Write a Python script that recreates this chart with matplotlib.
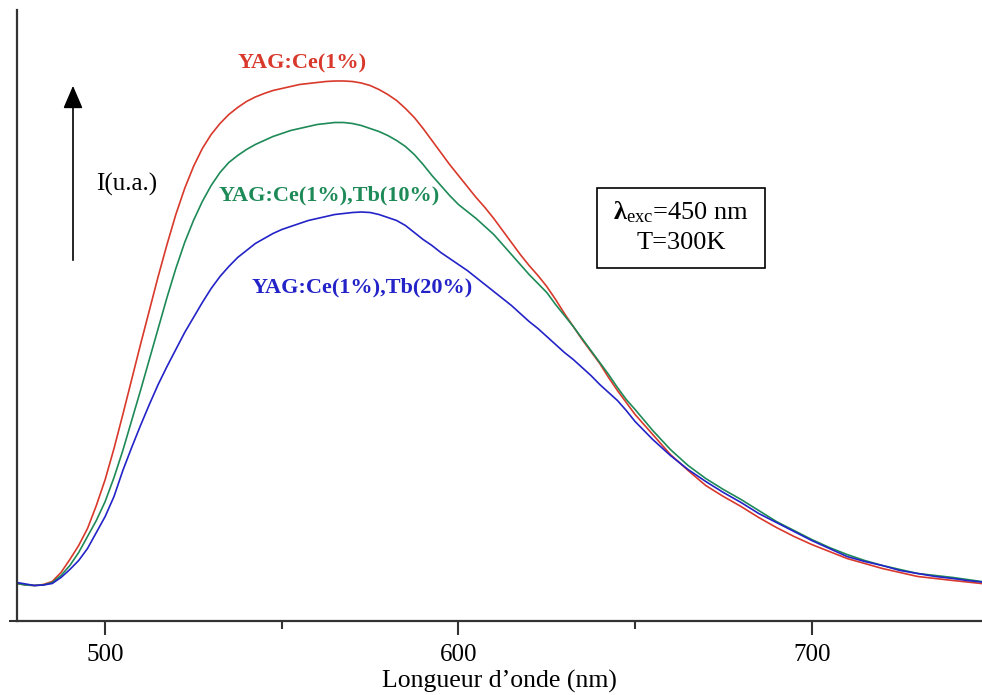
import matplotlib
matplotlib.use("Agg")
import matplotlib.pyplot as plt
from matplotlib.patches import Rectangle, FancyArrowPatch

plt.rcParams['font.family'] = ['Liberation Serif', 'DejaVu Serif']
plt.rcParams['mathtext.fontset'] = 'custom'
plt.rcParams['mathtext.rm'] = 'Liberation Serif'
plt.rcParams['mathtext.it'] = 'Liberation Serif'
plt.rcParams['mathtext.bf'] = 'Liberation Serif:bold'

# ---- data (wavelength in nm, intensity in arbitrary units) ----
wavelength = [475, 477.5, 480, 482.5, 485, 487.5, 490, 492.5, 495, 497.5,
              500, 502.5, 505, 507.5, 510, 512.5, 515, 517.5, 520, 522.5,
              525, 527.5, 530, 532.5, 535, 537.5, 540, 542.5, 545, 547.5,
              550, 552.5, 555, 557.5, 560, 562.5, 565, 567.5, 570, 572.5,
              575, 577.5, 580, 582.5, 585, 587.5, 590, 592.5, 595, 597.5,
              600, 602.5, 605, 607.5, 610, 612.5, 615, 617.5, 620, 622.5,
              625, 627.5, 630, 632.5, 635, 637.5, 640, 642.5, 645, 647.5,
              650, 655, 660, 665, 670, 675, 680, 685, 690, 695,
              700, 705, 710, 715, 720, 725, 730, 735, 740, 744,
              748]

ce1 = [37, 35.5, 35, 36, 39, 48, 61, 75, 92, 115,
       141, 172, 206, 241, 276, 310, 344, 376, 406, 432,
       454, 472, 486, 497, 506, 513, 519, 523.5, 527, 530,
       532, 534, 536, 537, 538, 539, 539.5, 539.5, 539, 537.5,
       535, 531, 526, 520, 512, 503, 492, 480, 468, 456,
       445, 434, 423, 413, 402, 390, 378, 366, 355, 345,
       334, 321, 307, 294, 281, 269, 257, 243, 230, 218,
       206, 186, 166, 150, 135, 124, 114, 103, 93, 84,
       76, 69, 62, 57, 52, 48, 44, 42, 40, 38.5,
       37]

ce1_tb10 = [37, 35.5, 35, 35.5, 38, 45, 55, 68, 84, 100,
            119, 143, 170, 200, 230, 261, 292, 323, 352, 378,
            400, 419, 435, 448, 458, 465, 471, 476, 480, 484,
            487, 490, 492, 494, 496, 497, 498, 498, 497, 495,
            492, 489, 485, 480, 474, 466, 456, 445, 435, 425,
            416, 409, 402, 394, 386, 376, 366, 356, 346, 337,
            328, 316, 305, 294, 282, 270, 258, 246, 233, 221,
            211, 190, 171, 155, 142, 131, 121, 110, 99, 90,
            81, 73, 66, 60, 55, 51, 47, 45, 43, 41,
            39]

ce1_tb20 = [38, 36.5, 35, 35.5, 37, 43, 51, 60, 72, 88,
            104, 124, 150, 173, 195, 216, 236, 254, 271, 288,
            303, 318, 332, 344, 354, 363, 370, 377, 382, 387,
            391, 394, 397, 400, 402, 404, 406, 407, 408, 408.5,
            408, 406, 403, 400, 395, 388, 381, 375, 368, 362,
            356, 350, 343, 336, 329, 322, 315, 307, 299, 292,
            284, 276, 268, 261, 253, 245, 236, 228, 220, 210,
            199, 181, 165, 151, 139, 128, 118, 107, 98, 89,
            80, 72, 64, 59, 55, 50, 47, 44, 42, 40,
            38.5]

series_labels = ["YAG:Ce(1%)", "YAG:Ce(1%),Tb(10%)", "YAG:Ce(1%),Tb(20%)"]
series_colors = ["#d8392b", "#1e8a57", "#2323c8"]
xticks_major = [500, 600, 700]
xticks_minor = [550, 650]

W, H = 982, 695
fig = plt.figure(figsize=(W / 100, H / 100), dpi=100)
ax = fig.add_axes([16.5 / W, (H - 620.5) / H, (W - 16.5) / W, (620.5 - 10) / H])

for ys, c in zip([ce1, ce1_tb10, ce1_tb20], series_colors):
    ax.plot(wavelength, ys, color=c, lw=1.2, solid_joinstyle='round')

ax.set_xlim(474.9, 748.2)
ax.set_ylim(0, 610.5)

for s in ['top', 'right']:
    ax.spines[s].set_visible(False)
for s in ['left', 'bottom']:
    ax.spines[s].set_color('#333333')
    ax.spines[s].set_linewidth(1.6)

ax.set_xticks(xticks_major)
ax.set_xticks(xticks_minor, minor=True)
ax.set_xticklabels([str(v) for v in xticks_major])
ax.tick_params(axis='x', which='major', direction='out', length=10, width=1.5,
               color='#333333', labelsize=18, pad=7)
ax.tick_params(axis='x', which='minor', direction='out', length=6, width=1.5,
               color='#333333')
ax.set_yticks([0])
ax.set_yticklabels([])
ax.tick_params(axis='y', direction='out', length=6, width=1.5, color='#333333')
ax.set_xlabel("Longueur d\u2019onde (nm)", fontsize=18.5)
ax.xaxis.set_label_coords(0.5, -(681 - 620.5) / (620.5 - 10))
ax.xaxis.label.set_verticalalignment('center')


def fx(px):
    return px / W


def fy(py):
    return 1 - py / H


# series labels
label_pos = [(302, 63), (329, 195), (362, 287)]
for lab, c, (px, py) in zip(series_labels, series_colors, label_pos):
    fig.text(fx(px), fy(py), lab, color=c, fontsize=16, fontweight='bold',
             ha='center', va='center')

# intensity arrow and label
arrow = FancyArrowPatch((fx(73), fy(263)), (fx(73), fy(83)), transform=fig.transFigure,
                        arrowstyle='-|>,head_length=0.7,head_width=0.3',
                        mutation_scale=20, color='black', lw=1.2)
fig.patches.append(arrow)
fig.text(fx(127), fy(184), "I(u.a.)", fontsize=18, ha='center', va='center')

# excitation box
box = Rectangle((fx(597), fy(268)), fx(765) - fx(597), fy(188) - fy(268),
                transform=fig.transFigure, fill=False, edgecolor='black', lw=1.2)
fig.patches.append(box)
fig.text(fx(681), fy(212), r"$\mathbf{\lambda}_{\mathrm{exc}}$=450 nm", fontsize=19,
         ha='center', va='center')
fig.text(fx(681), fy(243), "T=300K", fontsize=19, ha='center', va='center')

fig.savefig("out.png", dpi=100)
